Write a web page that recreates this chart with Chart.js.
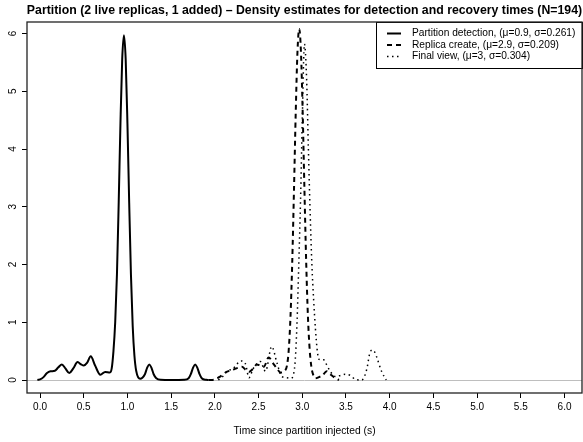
<!DOCTYPE html>
<html>
<head>
<meta charset="utf-8">
<style>
  html, body { margin: 0; padding: 0; background: #fff; }
</style>
</head>
<body>
<canvas id="densityChart" width="583" height="442"></canvas>

<script src="https://cdn.jsdelivr.net/npm/chart.js@4.4.0/dist/chart.umd.min.js"></script>
<script>
  // axis ticks
  const xTicks = [0, 0.5, 1, 1.5, 2, 2.5, 3, 3.5, 4, 4.5, 5, 5.5, 6];
  const yTicks = [0, 1, 2, 3, 4, 5, 6];

  // partition detection (solid)
  const detX = [-0.03, 0.00, 0.04, 0.08, 0.12, 0.17, 0.21, 0.25, 0.29, 0.335, 0.38, 0.43, 0.47, 0.50, 0.54,
    0.58, 0.63, 0.69, 0.745, 0.80, 0.82, 0.84, 0.86, 0.88, 0.90, 0.92, 0.94, 0.96, 0.98, 1.00,
    1.02, 1.04, 1.06, 1.08, 1.10, 1.145, 1.20, 1.225, 1.25, 1.275, 1.30, 1.33, 1.38, 1.50, 1.65,
    1.70, 1.725, 1.75, 1.775, 1.80, 1.825, 1.85, 1.90, 1.93];
  const detY = [0, 0.01, 0.05, 0.12, 0.15, 0.16, 0.22, 0.27, 0.2, 0.12, 0.2, 0.31, 0.27, 0.25, 0.3,
    0.41, 0.25, 0.09, 0.14, 0.13, 0.2, 0.5, 1.0, 1.83, 3.07, 4.44, 5.55, 5.97, 5.55, 4.44,
    3.07, 1.83, 0.94, 0.42, 0.16, 0.02, 0.1, 0.21, 0.27, 0.21, 0.1, 0.03, 0.003, 0, 0.003,
    0.03, 0.1, 0.21, 0.27, 0.21, 0.1, 0.03, 0.003, 0];

  // replica create (dashed)
  const repX = [1.93, 2.00, 2.06, 2.12, 2.21, 2.26, 2.31, 2.35, 2.39, 2.44, 2.48, 2.52, 2.56, 2.615, 2.67,
    2.71, 2.75, 2.80, 2.825, 2.845, 2.865, 2.885, 2.905, 2.925, 2.945, 2.965, 2.985, 3.005, 3.025, 3.045,
    3.065, 3.085, 3.105, 3.125, 3.15, 3.19, 3.225, 3.28, 3.32, 3.38, 3.42];
  const repY = [0, 0.01, 0.06, 0.13, 0.18, 0.21, 0.23, 0.18, 0.14, 0.2, 0.27, 0.25, 0.23, 0.39, 0.28,
    0.2, 0.13, 0.16, 0.25, 0.52, 1.09, 2.03, 3.28, 4.62, 5.68, 6.08, 5.68, 4.62, 3.28, 2.03,
    1.09, 0.52, 0.22, 0.09, 0.03, 0.05, 0.07, 0.15, 0.1, 0.03, 0];

  // final view (dotted)
  const finX = [2.04, 2.09, 2.14, 2.21, 2.30, 2.35, 2.39, 2.44, 2.52, 2.58, 2.65, 2.71, 2.765, 2.82, 2.87,
    2.90, 2.92, 2.94, 2.96, 2.98, 3.00, 3.025, 3.05, 3.07, 3.09, 3.11, 3.13, 3.15, 3.17, 3.19,
    3.22, 3.245, 3.28, 3.32, 3.38, 3.44, 3.49, 3.55, 3.61, 3.68, 3.74, 3.77, 3.80, 3.83, 3.855,
    3.91, 3.96];
  const finY = [0, 0.06, 0.15, 0.2, 0.33, 0.28, 0.04, 0.2, 0.32, 0.15, 0.58, 0.3, 0.06, 0.04, 0.03,
    0.1, 0.35, 1.0, 2.0, 3.1, 4.5, 5.82, 5.2, 4.0, 2.9, 2.0, 1.39, 0.9, 0.53, 0.36,
    0.35, 0.35, 0.26, 0.15, 0.06, 0.08, 0.1, 0.08, 0.01, 0, 0.2, 0.45, 0.52, 0.48, 0.38,
    0.14, 0];

  const seriesLabels = [
    'Partition detection, (μ=0.9, σ=0.261)',
    'Replica create, (μ=2.9, σ=0.209)',
    'Final view, (μ=3, σ=0.304)'
  ];
  const titleText = 'Partition (2 live replicas, 1 added) – Density estimates for detection and recovery times (N=194)';
  const xTitle = 'Time since partition injected (s)';

  const FONT = '"Liberation Sans", Arial, Helvetica, sans-serif';
  const toPoints = (xs, ys) => xs.map((x, i) => ({ x: x, y: ys[i] }));

  // R-like frame, zero line, title and legend
  const rStyle = {
    id: 'rStyle',
    beforeDatasetsDraw(chart) {
      const { ctx, chartArea: a, scales: { y } } = chart;
      const y0 = Math.round(y.getPixelForValue(0)) + 0.5;
      ctx.save();
      ctx.strokeStyle = '#bebebe';
      ctx.lineWidth = 1;
      ctx.beginPath();
      ctx.moveTo(a.left, y0);
      ctx.lineTo(a.right, y0);
      ctx.stroke();
      ctx.restore();
    },
    afterDraw(chart) {
      const { ctx, chartArea: a } = chart;
      ctx.save();
      // legend box
      const w = 206, h = 46, lx = a.right - w, ly = a.top;
      ctx.fillStyle = '#fff';
      ctx.fillRect(lx, ly, w, h);
      ctx.strokeStyle = '#000';
      ctx.lineWidth = 1;
      ctx.strokeRect(lx + 0.5, ly + 0.5, w, h);
      ctx.font = '10.2px ' + FONT;
      ctx.textAlign = 'left';
      ctx.textBaseline = 'middle';
      chart.data.datasets.forEach((ds, i) => {
        const ry = ly + 11.5 + i * 11.5;
        ctx.strokeStyle = '#000';
        ctx.lineWidth = ds.borderWidth;
        ctx.setLineDash(ds.borderDash || []);
        ctx.beginPath();
        ctx.moveTo(lx + 11, ry);
        ctx.lineTo(lx + 25, ry);
        ctx.stroke();
        ctx.setLineDash([]);
        ctx.fillStyle = '#000';
        ctx.fillText(ds.label, lx + 36, ry);
      });
      // plot frame
      ctx.strokeStyle = '#222';
      ctx.lineWidth = 1.3;
      ctx.strokeRect(a.left, a.top, a.right - a.left, a.bottom - a.top);
      // main title
      ctx.fillStyle = '#000';
      ctx.font = 'bold 12.3px ' + FONT;
      ctx.textAlign = 'center';
      ctx.fillText(titleText, (a.left + a.right) / 2, 11);
      ctx.restore();
    }
  };

  const lineStyle = { borderColor: '#000', pointRadius: 0, fill: false, cubicInterpolationMode: 'monotone' };
  const tickFont = { family: FONT, size: 10 };

  const ctx = document.getElementById('densityChart').getContext('2d');
  new Chart(ctx, {
    type: 'line',
    data: {
      datasets: [
        { ...lineStyle, label: seriesLabels[0], data: toPoints(detX, detY), borderWidth: 2 },
        { ...lineStyle, label: seriesLabels[1], data: toPoints(repX, repY), borderWidth: 2, borderDash: [5, 4] },
        { ...lineStyle, label: seriesLabels[2], data: toPoints(finX, finY), borderWidth: 1.5, borderDash: [1.5, 3.5] }
      ]
    },
    options: {
      responsive: false,
      animation: false,
      layout: { padding: { top: 22, right: 1, left: 0, bottom: 0 } },
      plugins: {
        legend: { display: false },
        title: { display: false },
        tooltip: { enabled: false }
      },
      scales: {
        x: {
          type: 'linear',
          min: -0.149,
          max: 6.2,
          afterBuildTicks: s => { s.ticks = xTicks.map(v => ({ value: v })); },
          afterFit: s => { s.height = 49; },
          border: { display: false },
          grid: { drawOnChartArea: false, drawTicks: true, tickLength: 5, color: '#000' },
          ticks: { padding: 3, color: '#000', font: tickFont, maxRotation: 0, autoSkip: false,
                   callback: v => v.toFixed(1) },
          title: { display: true, text: xTitle, color: '#000', font: { family: FONT, size: 10.3 },
                   padding: { top: 0, bottom: 5 } }
        },
        y: {
          type: 'linear',
          min: -0.225,
          max: 6.2,
          afterBuildTicks: s => { s.ticks = yTicks.map(v => ({ value: v })); },
          afterFit: s => { s.width = 27; },
          border: { display: false },
          grid: { drawOnChartArea: false, drawTicks: true, tickLength: 5, color: '#000' },
          ticks: { padding: 5.5, crossAlign: 'center', minRotation: 90, maxRotation: 90, autoSkip: false,
                   color: '#000', font: tickFont, callback: v => String(v) }
        }
      }
    },
    plugins: [rStyle]
  });
</script>
</body>
</html>
